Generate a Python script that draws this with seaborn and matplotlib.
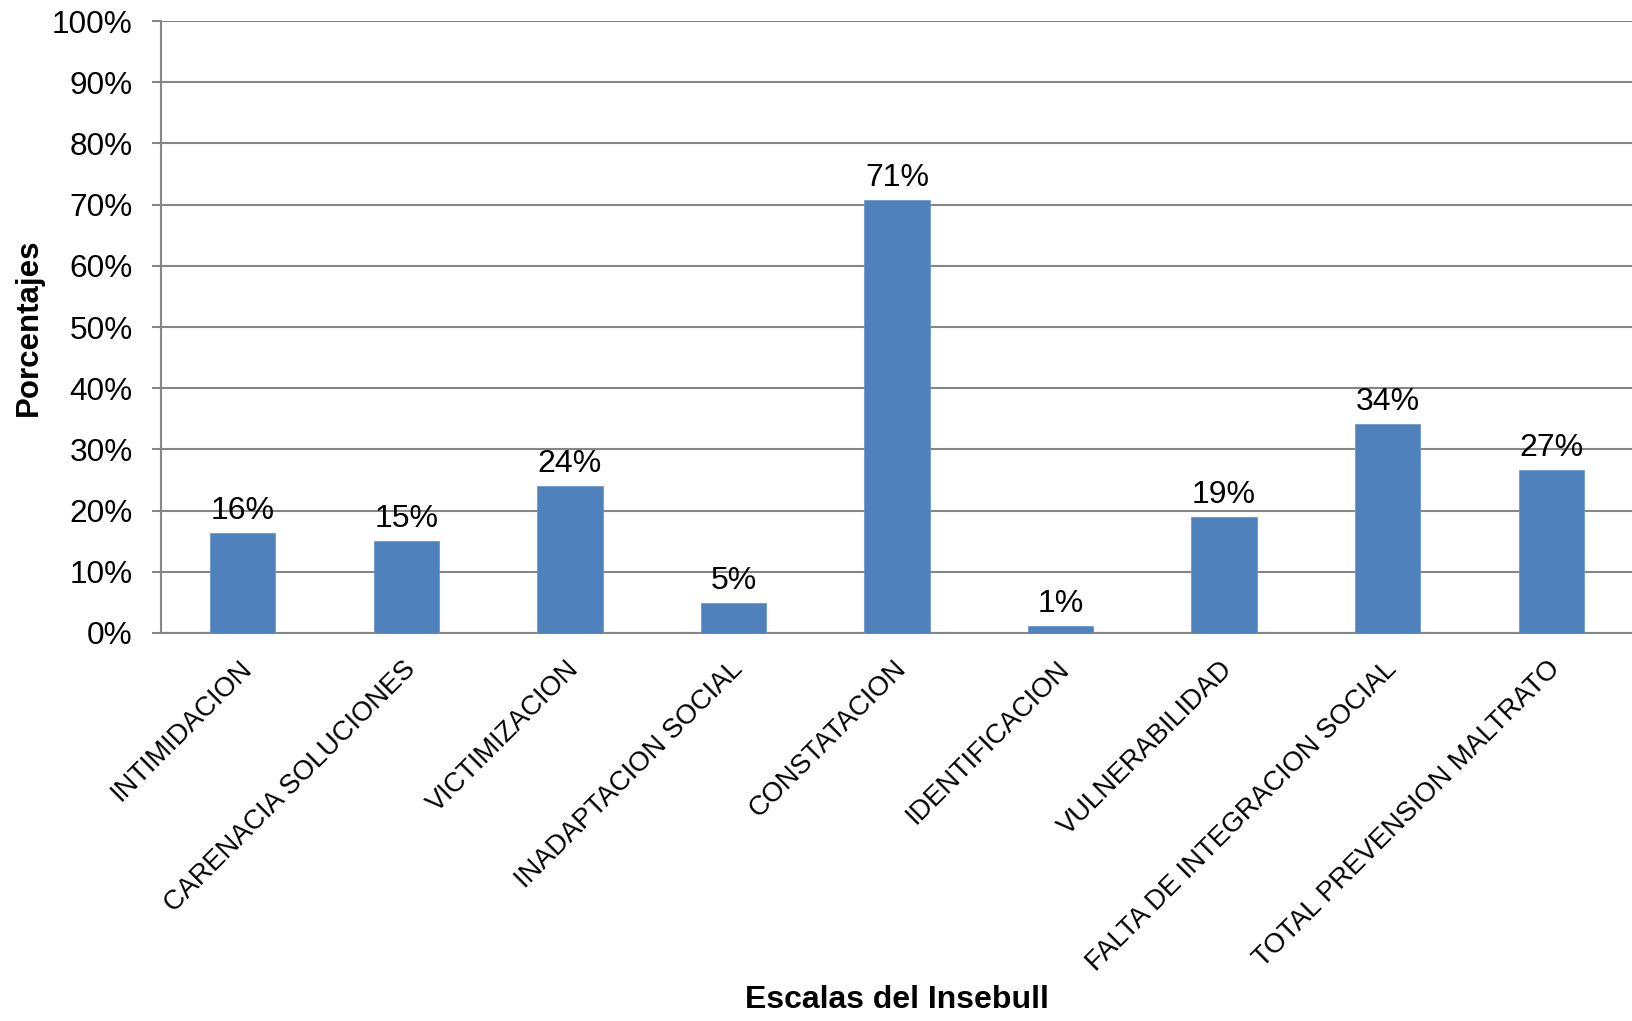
import matplotlib
matplotlib.use("Agg")
import matplotlib.pyplot as plt
import matplotlib.transforms as mtransforms
import seaborn as sns
import pandas as pd
from matplotlib.ticker import PercentFormatter, MultipleLocator

categories = ["INTIMIDACION", "CARENACIA SOLUCIONES", "VICTIMIZACION",
              "INADAPTACION SOCIAL", "CONSTATACION", "IDENTIFICACION",
              "VULNERABILIDAD", "FALTA DE INTEGRACION SOCIAL",
              "TOTAL PREVENSION MALTRATO"]
values = [16.3, 15.1, 24.0, 4.9, 70.8, 1.1, 18.9, 34.1, 26.6]
value_labels = ["16%", "15%", "24%", "5%", "71%", "1%", "19%", "34%", "27%"]

sns.set_theme(style="white")
plt.rcParams['font.family'] = ['Liberation Sans', 'DejaVu Sans']

W, H = 1633, 1021
fig = plt.figure(figsize=(W / 100, H / 100), dpi=100)
left, right, top, bottom = 161, 1633, 21, 633
ax = fig.add_axes([left / W, 1 - bottom / H, (right - left) / W, (bottom - top) / H])

df = pd.DataFrame({"cat": categories, "val": values})
sns.barplot(data=df, x="cat", y="val", color="#4F81BD", width=0.4,
            saturation=1, ax=ax, zorder=3)
for p in ax.patches:
    p.set_edgecolor("#6f97c9")
    p.set_linewidth(0.6)

ax.bar_label(ax.containers[0], labels=value_labels, padding=5,
             fontsize=23, color="black")

ax.set_ylim(0, 100)
ax.set_xlim(-0.5, len(categories) - 0.5)
ax.yaxis.set_major_locator(MultipleLocator(10))
ax.yaxis.set_major_formatter(PercentFormatter(decimals=0))
ax.grid(axis="y", color="#868686", linewidth=1.5, zorder=0)
ax.set_axisbelow(True)

for s in ["top", "right"]:
    ax.spines[s].set_visible(False)
ax.spines["left"].set_color("#868686")
ax.spines["left"].set_linewidth(1.5)
ax.spines["bottom"].set_color("#868686")
ax.spines["bottom"].set_linewidth(1.5)

ax.tick_params(axis="y", which="major", left=True, length=6.5, width=1.5,
               color="#868686", labelsize=22.7, pad=14, labelcolor="black")
ax.tick_params(axis="x", bottom=False, labelsize=19.6, pad=17, labelcolor="black")
offset = mtransforms.ScaledTranslation(5 / 100, 0, fig.dpi_scale_trans)
for lbl in ax.get_xticklabels():
    lbl.set_rotation(45)
    lbl.set_ha("right")
    lbl.set_va("center")
    lbl.set_rotation_mode("anchor")
    lbl.set_transform(lbl.get_transform() + offset)

ax.set_xlabel("Escalas del Insebull", fontsize=23, fontweight="bold",
              labelpad=0, color="black")
ax.set_ylabel("Porcentajes", fontsize=22.5, fontweight="bold",
              labelpad=5.5, color="black")
ax.xaxis.set_label_coords(0.5, -(1000 - bottom) / (bottom - top), transform=ax.transAxes)
ax.xaxis.label.set_verticalalignment("center")

fig.savefig("out.png", dpi=100)
